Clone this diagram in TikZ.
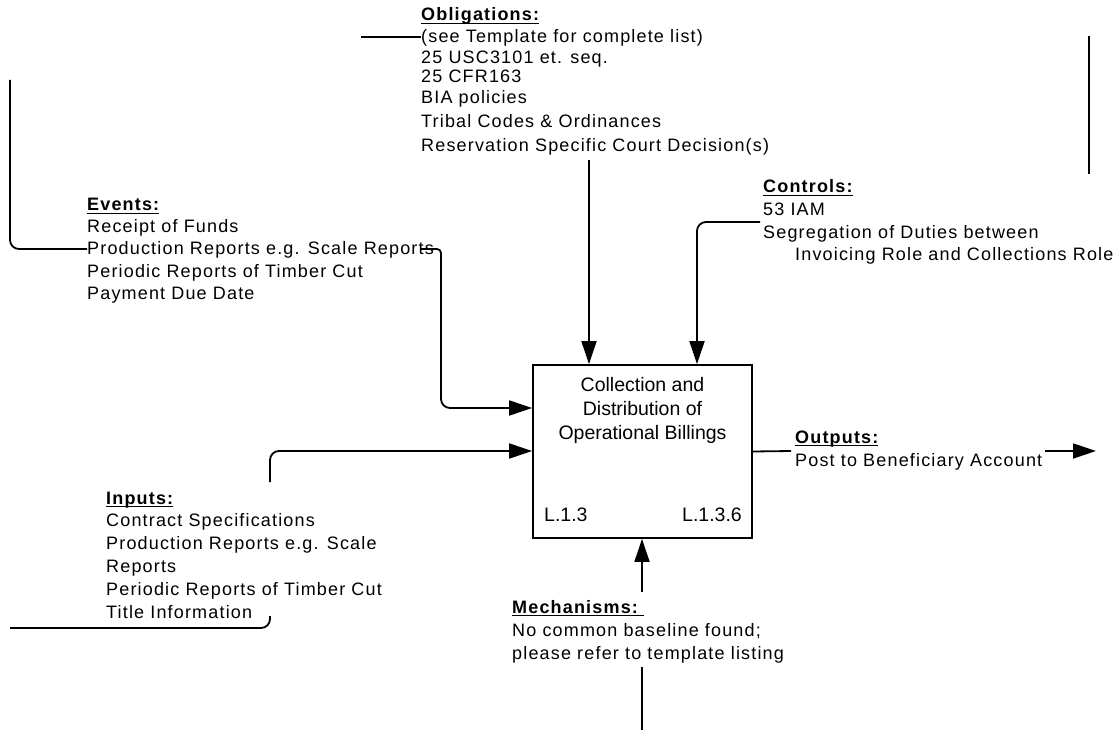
\documentclass[tikz,border=0pt]{standalone}
\usepackage{fontspec}
\setmainfont{Liberation Sans}[LetterSpace=6.5]
\newfontfamily\boxfont{Liberation Sans}
\usetikzlibrary{arrows.meta}
% bold, underlined heading of a label block
\newcommand{\hdr}[1]{\setbox0\hbox{\bfseries #1}\rlap{\rule[-3pt]{\wd0}{1.3pt}}\box0}

\begin{document}
\begin{tikzpicture}[x=1pt,y=-1pt,
  txt/.style={anchor=base west, inner sep=0pt, font=\fontsize{18}{21}\selectfont},
  boxtxt/.style={inner sep=0pt, font=\boxfont\fontsize{19.5}{24}\selectfont},
  wire/.style={line width=1.8pt, rounded corners=9pt},
  tip/.style={-{Triangle[length=23pt,width=15pt]}},
]
\useasboundingbox (0,0) rectangle (1117,730);

% activity box
\node[draw, line width=1.8pt, minimum width=219pt, minimum height=173pt, inner sep=0pt] (act) at (642.5,451.5) {};
\node[boxtxt, anchor=base] (a1) at (642.5,391) {Collection and};
\node[boxtxt, anchor=base] (a2) at (642.5,415) {Distribution of};
\node[boxtxt, anchor=base] (a3) at (642.5,439) {Operational Billings};
\node[boxtxt, anchor=base west] (nodeid) at (544,521) {L.1.3};
\node[boxtxt, anchor=base east] (refid) at (742,521) {L.1.3.6};

% obligations
\node[txt] (ob0) at (421,21) {\hdr{Obligations:}};
\foreach \t/\y [count=\i] in {{(see Template for complete list)}/43, {25 USC3101 et. seq.}/64,
  {25 CFR163}/83, {BIA policies}/104, {Tribal Codes \& Ordinances}/128,
  {Reservation Specific Court Decision(s)}/152}
  \node[txt] (ob\i) at (421,\y) {\t};

% controls
\node[txt] (ct0) at (763,193) {\hdr{Controls:}};
\node[txt] (ct1) at (763,216) {53 IAM};
\node[txt] (ct2) at (763,239) {Segregation of Duties between};
\node[txt] (ct3) at (795,261) {Invoicing Role and Collections Role};

% events
\node[txt] (ev0) at (87,211) {\hdr{Events:}};
\foreach \t/\y [count=\i] in {{Receipt of Funds}/233, {Production Reports e.g. Scale Reports}/255,
  {Periodic Reports of Timber Cut}/277, {Payment Due Date}/299}
  \node[txt] (ev\i) at (87,\y) {\t};

% inputs
\node[txt] (in0) at (106,504) {\hdr{Inputs:}};
\foreach \t/\y [count=\i] in {{Contract Specifications}/526, {Production Reports e.g. Scale}/549,
  {Reports}/572, {Periodic Reports of Timber Cut}/595, {Title Information}/618}
  \node[txt] (in\i) at (106,\y) {\t};

% outputs
\node[txt] (out0) at (795,443) {\hdr{Outputs:}};
\node[txt] (out1) at (795,466) {Post to Beneficiary Account};

% mechanisms
\node[txt] (me0) at (512,613) {\hdr{Mechanisms:\ }};
\node[txt] (me1) at (512,636) {No common baseline found;};
\node[txt] (me2) at (512,659) {please refer to template listing};

% free ends and bends of the connectors
\coordinate (obfree) at (361,37);
\coordinate (obtop) at (589,160);
\coordinate (ctlfree) at (760,222);
\coordinate (ctlbend) at (697,222);
\coordinate (rtop) at (1089,36);
\coordinate (rbot) at (1089,174);
\coordinate (evtop) at (10,80);
\coordinate (evbend) at (10,249);
\coordinate (evout) at (420,249);
\coordinate (evbend2) at (441,249);
\coordinate (evbend3) at (441,408);
\coordinate (inlow) at (270,482);
\coordinate (inbend) at (270,451);
\coordinate (botleft) at (10,628);
\coordinate (botbend) at (270,628);
\coordinate (botend) at (270,616);
\coordinate (outend) at (791,451);
\coordinate (outstart) at (1045,451);
\coordinate (outtip) at (1096,451);
\coordinate (mechtop) at (642,592);
\coordinate (mechlow) at (642,667);
\coordinate (mechbot) at (642,730);

% connectors
\draw[wire] (obfree) -- (obfree -| ob1.west);
\draw[wire, tip] (obtop) -- (obtop |- act.north);
\draw[wire, tip] (ctlfree) -- (ctlbend) -- (ctlbend |- act.north);
\draw[wire] (rtop) -- (rbot);
\draw[wire] (evtop) -- (evbend) -- (evbend -| ev2.west);
\draw[wire, rounded corners=4pt, tip] (evout) -- (evbend2) [rounded corners=9pt] -- (evbend3) -- (evbend3 -| act.west);
\draw[wire, tip] (inlow) -- (inbend) -- (inbend -| act.west);
\draw[wire] (botleft) -- (botbend) -- (botend);
\draw[wire] (act.east) -- (outend);
\draw[wire, tip] (outstart) -- (outtip);
\draw[wire, tip] (mechtop) -- (mechtop |- act.south);
\draw[wire] (mechlow) -- (mechbot);
\end{tikzpicture}
\end{document}
